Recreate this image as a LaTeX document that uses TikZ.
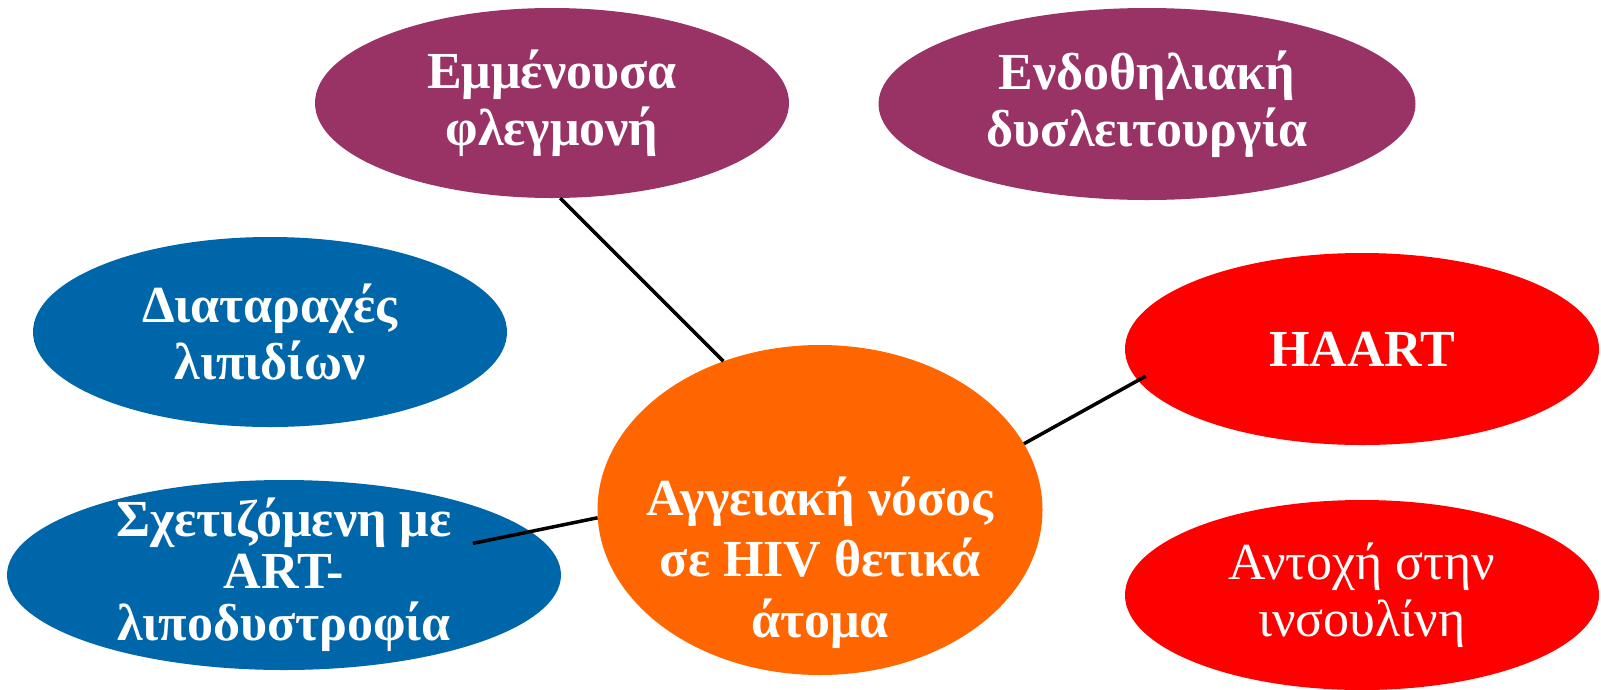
\documentclass[tikz,border=0pt]{standalone}
\usepackage{fontspec}
\setmainfont{Liberation Serif}
\usetikzlibrary{
	shapes.geometric	% Allows ellipse shaped nodes
}
\definecolor{plum}{HTML}{993366}
\definecolor{sea}{HTML}{0066AA}
\definecolor{flame}{HTML}{FF6600}
\definecolor{signal}{HTML}{FF0000}

\begin{document}
\begin{tikzpicture}[x=1pt, y=-1pt,
			blob/.style={
				ellipse,
				draw=none,
				inner sep=0pt,
				minimum width=474pt,
				minimum height=190pt
			},
			caption/.style={
				text=white,
				font=\fontsize{52}{57}\selectfont\bfseries,
				align=center,
				inner sep=0pt
			},
			link/.style={
				line width=3.5pt,
				black
			}]

			\useasboundingbox (0,0) rectangle (1601,689);

			%%% Causes around the central disease
			\node [blob, fill=plum, label={[caption]center:{Εμμένουσα\\φλεγμονή}}] (inflam) at (552,103) {};
			\node [blob, fill=plum, minimum width=537pt, minimum height=192pt,
				label={[caption]center:{Ενδοθηλιακή\\δυσλειτουργία}}] (endo) at (1147,104) {};
			\node [blob, fill=sea, label={[caption]center:{Διαταραχές\\λιπιδίων}}] (lipid) at (270,332) {};
			\node [blob, fill=sea, minimum width=554pt,
				label={[caption, font=\fontsize{52}{52}\selectfont\bfseries]center:{Σχετιζόμενη με\\ART-\\λιποδυστροφία}}] (artlipo) at (284,575) {};
			\node [blob, fill=signal, minimum height=192pt, label={[caption]center:{HAART}}] (haart) at (1362,349) {};
			\node [blob, fill=signal, label={[caption, font=\fontsize{52}{57}\selectfont]center:{Αντοχή στην\\ινσουλίνη}}] (insulin) at (1362,595) {};

			% The central node, its text sits a little low
			\node [blob, fill=flame, minimum width=445pt, minimum height=330pt,
				label={[caption, yshift=-53pt, font=\fontsize{52}{61}\selectfont\bfseries]center:{Αγγειακή νόσος\\σε HIV θετικά\\άτομα}}] (core) at (820,510) {};

			%%% Connectors
			\draw [link] (inflam.275) -- (core.123);
			\draw [link, shorten >=-9pt] (core.18) -- (haart.188);
			\draw [link, shorten >=-59pt] (core.182) -- (artlipo.10);

		\end{tikzpicture}
\end{document}
